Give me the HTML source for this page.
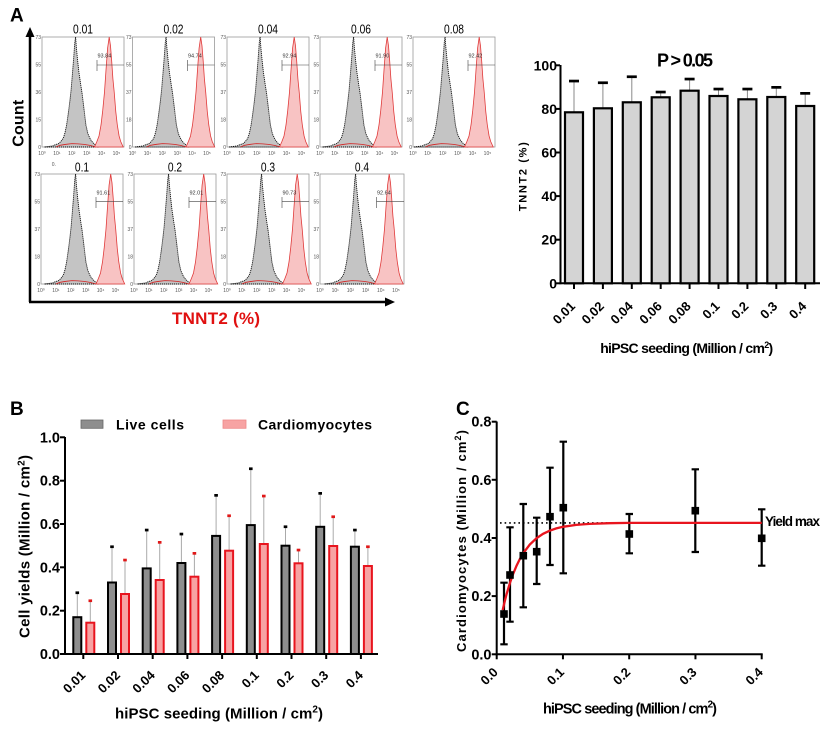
<!DOCTYPE html>
<html><head><meta charset="utf-8"><style>
html,body{margin:0;padding:0;background:#fff;}
svg{display:block;font-family:"Liberation Sans",Arial,sans-serif;}
.b{font-weight:bold;}
.s{font-size:5px;fill:#555;}
.p{font-size:5.5px;fill:#333;}
</style></head><body>
<svg width="824" height="729" viewBox="0 0 824 729" xmlns="http://www.w3.org/2000/svg">
<defs>
<g id="hg">
<path d="M2.5,110 L6.6,109.5 L10.7,108.9 L13.1,107.8 L16.4,106.7 L18.9,104.5 L21.3,101.2 L23,95.7 L24.6,88 L26.2,77 L27.9,63.8 L29.1,52.8 L30.3,38.5 L31.6,22 L32.8,5.5 L33.6,0 L34.4,11 L35.7,24.2 L36.9,35.2 L38.5,46.2 L40.2,57.2 L41.8,70.4 L43.9,88 L45.9,96.8 L48.4,102.3 L50.8,105.6 L53.3,107.8 L55.8,110 Z" fill="#c4c4c4" stroke="#111" stroke-width="0.9" stroke-dasharray="1.2 0.8"/>
<path d="M14,110 L18,108.3 L24,107.3 L30,106.6 L36,106.9 L42,107.4 L48,108.4 L54,110" fill="none" stroke="#d42020" stroke-width="0.8"/>
</g>
<g id="hr">
<path d="M52.5,110 L54.9,104.5 L57,99 L59,88 L60.7,73.7 L62.5,55 L64,33 L65.6,11 L67.2,0 L68.5,8.8 L69.7,24.2 L70.9,41.8 L72.2,55 L73.8,74.8 L75.3,88 L77.1,99 L78.7,104.5 L81.2,110 Z" fill="#f8c3c3" stroke="#e03a3a" stroke-width="0.8"/>
</g>
</defs>
<rect width="824" height="729" fill="#fff"/>

<!-- Panel A label and arrows -->
<text x="10" y="21.7" class="b" font-size="19">A</text>
<line x1="30" y1="35" x2="30" y2="302" stroke="#000" stroke-width="2.5"/>
<polygon points="30,27 25.5,37 34.5,37" fill="#000"/>
<line x1="29" y1="302" x2="386" y2="302" stroke="#000" stroke-width="2.5"/>
<polygon points="395,302 385,297.5 385,306.5" fill="#000"/>
<text transform="translate(23.5,123.3) rotate(-90)" text-anchor="middle" class="b" font-size="16" textLength="47">Count</text>
<text x="216" y="324" text-anchor="middle" class="b" font-size="17" fill="#e01010" textLength="88">TNNT2 (%)</text>

<!-- Histogram panels top row -->
<g transform="translate(42,37)">
<rect x="0" y="0" width="82" height="110" fill="none" stroke="#999" stroke-width="0.8"/>
<use href="#hg"/><use href="#hr"/>
<line x1="55" y1="28" x2="82" y2="28" stroke="#444" stroke-width="0.6"/><line x1="55" y1="23" x2="55" y2="34" stroke="#444" stroke-width="0.6"/>
<text x="55.5" y="20.5" class="p">93.84</text>
<text x="-1" y="2" text-anchor="end" class="s">73</text><text x="-1" y="29.3" text-anchor="end" class="s">55</text><text x="-1" y="57" text-anchor="end" class="s">36</text><text x="-1" y="84.5" text-anchor="end" class="s">15</text><text x="-1" y="112" text-anchor="end" class="s">0</text>
<text x="0" y="118" text-anchor="middle" class="s">10⁰</text><text x="14.9" y="118" text-anchor="middle" class="s">10¹</text><text x="29.8" y="118" text-anchor="middle" class="s">10²</text><text x="44.7" y="118" text-anchor="middle" class="s">10³</text><text x="59.6" y="118" text-anchor="middle" class="s">10⁴</text><text x="74.5" y="118" text-anchor="middle" class="s">10⁵</text>
<text transform="translate(41,-3.5) scale(0.82,1)" text-anchor="middle" font-size="12.5">0.01</text>
</g>
<g transform="translate(132.5,37)">
<rect x="0" y="0" width="82" height="110" fill="none" stroke="#999" stroke-width="0.8"/>
<use href="#hg"/><use href="#hr" x="1"/>
<line x1="55" y1="28" x2="82" y2="28" stroke="#444" stroke-width="0.6"/><line x1="55" y1="23" x2="55" y2="34" stroke="#444" stroke-width="0.6"/>
<text x="55.5" y="20.5" class="p">94.74</text>
<text x="-1" y="2" text-anchor="end" class="s">73</text><text x="-1" y="29.3" text-anchor="end" class="s">55</text><text x="-1" y="57" text-anchor="end" class="s">37</text><text x="-1" y="84.5" text-anchor="end" class="s">18</text><text x="-1" y="112" text-anchor="end" class="s">0</text>
<text x="0" y="118" text-anchor="middle" class="s">10⁰</text><text x="14.9" y="118" text-anchor="middle" class="s">10¹</text><text x="29.8" y="118" text-anchor="middle" class="s">10²</text><text x="44.7" y="118" text-anchor="middle" class="s">10³</text><text x="59.6" y="118" text-anchor="middle" class="s">10⁴</text><text x="74.5" y="118" text-anchor="middle" class="s">10⁵</text>
<text transform="translate(41,-3.5) scale(0.82,1)" text-anchor="middle" font-size="12.5">0.02</text>
</g>
<g transform="translate(227,37)">
<rect x="0" y="0" width="82" height="110" fill="none" stroke="#999" stroke-width="0.8"/>
<use href="#hg" x="-0.5"/><use href="#hr"/>
<line x1="55" y1="28" x2="82" y2="28" stroke="#444" stroke-width="0.6"/><line x1="55" y1="23" x2="55" y2="34" stroke="#444" stroke-width="0.6"/>
<text x="55.5" y="20.5" class="p">92.94</text>
<text x="-1" y="2" text-anchor="end" class="s">73</text><text x="-1" y="29.3" text-anchor="end" class="s">55</text><text x="-1" y="57" text-anchor="end" class="s">37</text><text x="-1" y="84.5" text-anchor="end" class="s">18</text><text x="-1" y="112" text-anchor="end" class="s">0</text>
<text x="0" y="118" text-anchor="middle" class="s">10⁰</text><text x="14.9" y="118" text-anchor="middle" class="s">10¹</text><text x="29.8" y="118" text-anchor="middle" class="s">10²</text><text x="44.7" y="118" text-anchor="middle" class="s">10³</text><text x="59.6" y="118" text-anchor="middle" class="s">10⁴</text><text x="74.5" y="118" text-anchor="middle" class="s">10⁵</text>
<text transform="translate(41,-3.5) scale(0.82,1)" text-anchor="middle" font-size="12.5">0.04</text>
</g>
<g transform="translate(320,37)">
<rect x="0" y="0" width="82" height="110" fill="none" stroke="#999" stroke-width="0.8"/>
<use href="#hg"/><use href="#hr"/>
<line x1="55" y1="28" x2="82" y2="28" stroke="#444" stroke-width="0.6"/><line x1="55" y1="23" x2="55" y2="34" stroke="#444" stroke-width="0.6"/>
<text x="55.5" y="20.5" class="p">91.90</text>
<text x="-1" y="2" text-anchor="end" class="s">73</text><text x="-1" y="29.3" text-anchor="end" class="s">55</text><text x="-1" y="57" text-anchor="end" class="s">37</text><text x="-1" y="84.5" text-anchor="end" class="s">18</text><text x="-1" y="112" text-anchor="end" class="s">0</text>
<text x="0" y="118" text-anchor="middle" class="s">10⁰</text><text x="14.9" y="118" text-anchor="middle" class="s">10¹</text><text x="29.8" y="118" text-anchor="middle" class="s">10²</text><text x="44.7" y="118" text-anchor="middle" class="s">10³</text><text x="59.6" y="118" text-anchor="middle" class="s">10⁴</text><text x="74.5" y="118" text-anchor="middle" class="s">10⁵</text>
<text transform="translate(41,-3.5) scale(0.82,1)" text-anchor="middle" font-size="12.5">0.06</text>
</g>
<g transform="translate(413,37)">
<rect x="0" y="0" width="82" height="110" fill="none" stroke="#999" stroke-width="0.8"/>
<use href="#hg" x="-1.5"/><use href="#hr" x="-1"/>
<line x1="55" y1="28" x2="82" y2="28" stroke="#444" stroke-width="0.6"/><line x1="55" y1="23" x2="55" y2="34" stroke="#444" stroke-width="0.6"/>
<text x="55.5" y="20.5" class="p">92.42</text>
<text x="-1" y="2" text-anchor="end" class="s">73</text><text x="-1" y="29.3" text-anchor="end" class="s">55</text><text x="-1" y="57" text-anchor="end" class="s">37</text><text x="-1" y="84.5" text-anchor="end" class="s">18</text><text x="-1" y="112" text-anchor="end" class="s">0</text>
<text x="0" y="118" text-anchor="middle" class="s">10⁰</text><text x="14.9" y="118" text-anchor="middle" class="s">10¹</text><text x="29.8" y="118" text-anchor="middle" class="s">10²</text><text x="44.7" y="118" text-anchor="middle" class="s">10³</text><text x="59.6" y="118" text-anchor="middle" class="s">10⁴</text><text x="74.5" y="118" text-anchor="middle" class="s">10⁵</text>
<text transform="translate(41,-3.5) scale(0.82,1)" text-anchor="middle" font-size="12.5">0.08</text>
</g>

<!-- Histogram panels bottom row -->
<text x="51.7" y="166" class="s">0.</text>
<g transform="translate(41,174)">
<rect x="0" y="0" width="82" height="110" fill="none" stroke="#999" stroke-width="0.8"/>
<use href="#hg" x="1"/><use href="#hr" x="2.5"/>
<line x1="55" y1="27.7" x2="82" y2="27.7" stroke="#444" stroke-width="0.6"/><line x1="55" y1="23" x2="55" y2="34" stroke="#444" stroke-width="0.6"/>
<text x="55.5" y="20.5" class="p">91.61</text>
<text x="-1" y="2" text-anchor="end" class="s">73</text><text x="-1" y="29.3" text-anchor="end" class="s">55</text><text x="-1" y="57" text-anchor="end" class="s">37</text><text x="-1" y="84.5" text-anchor="end" class="s">18</text><text x="-1" y="112" text-anchor="end" class="s">0</text>
<text x="0" y="118" text-anchor="middle" class="s">10⁰</text><text x="14.9" y="118" text-anchor="middle" class="s">10¹</text><text x="29.8" y="118" text-anchor="middle" class="s">10²</text><text x="44.7" y="118" text-anchor="middle" class="s">10³</text><text x="59.6" y="118" text-anchor="middle" class="s">10⁴</text><text x="74.5" y="118" text-anchor="middle" class="s">10⁵</text>
<text transform="translate(41,-2.5) scale(0.82,1)" text-anchor="middle" font-size="12.5">0.1</text>
</g>
<g transform="translate(134,174)">
<rect x="0" y="0" width="82" height="110" fill="none" stroke="#999" stroke-width="0.8"/>
<use href="#hg" x="1"/><use href="#hr" x="2.5"/>
<line x1="55" y1="27.7" x2="82" y2="27.7" stroke="#444" stroke-width="0.6"/><line x1="55" y1="23" x2="55" y2="34" stroke="#444" stroke-width="0.6"/>
<text x="55.5" y="20.5" class="p">92.01</text>
<text x="-1" y="2" text-anchor="end" class="s">73</text><text x="-1" y="29.3" text-anchor="end" class="s">55</text><text x="-1" y="57" text-anchor="end" class="s">37</text><text x="-1" y="84.5" text-anchor="end" class="s">18</text><text x="-1" y="112" text-anchor="end" class="s">0</text>
<text x="0" y="118" text-anchor="middle" class="s">10⁰</text><text x="14.9" y="118" text-anchor="middle" class="s">10¹</text><text x="29.8" y="118" text-anchor="middle" class="s">10²</text><text x="44.7" y="118" text-anchor="middle" class="s">10³</text><text x="59.6" y="118" text-anchor="middle" class="s">10⁴</text><text x="74.5" y="118" text-anchor="middle" class="s">10⁵</text>
<text transform="translate(41,-2.5) scale(0.82,1)" text-anchor="middle" font-size="12.5">0.2</text>
</g>
<g transform="translate(227,174)">
<rect x="0" y="0" width="82" height="110" fill="none" stroke="#999" stroke-width="0.8"/>
<use href="#hg" x="1"/><use href="#hr" x="3"/>
<line x1="55" y1="27.7" x2="82" y2="27.7" stroke="#444" stroke-width="0.6"/><line x1="55" y1="23" x2="55" y2="34" stroke="#444" stroke-width="0.6"/>
<text x="55.5" y="20.5" class="p">90.73</text>
<text x="-1" y="2" text-anchor="end" class="s">73</text><text x="-1" y="29.3" text-anchor="end" class="s">55</text><text x="-1" y="57" text-anchor="end" class="s">37</text><text x="-1" y="84.5" text-anchor="end" class="s">18</text><text x="-1" y="112" text-anchor="end" class="s">0</text>
<text x="0" y="118" text-anchor="middle" class="s">10⁰</text><text x="14.9" y="118" text-anchor="middle" class="s">10¹</text><text x="29.8" y="118" text-anchor="middle" class="s">10²</text><text x="44.7" y="118" text-anchor="middle" class="s">10³</text><text x="59.6" y="118" text-anchor="middle" class="s">10⁴</text><text x="74.5" y="118" text-anchor="middle" class="s">10⁵</text>
<text transform="translate(41,-2.5) scale(0.82,1)" text-anchor="middle" font-size="12.5">0.3</text>
</g>
<g transform="translate(320,174)">
<rect x="0" y="0" width="84" height="110" fill="none" stroke="#999" stroke-width="0.8"/>
<use href="#hg" x="2"/><use href="#hr" x="2"/>
<line x1="56.5" y1="27.7" x2="84" y2="27.7" stroke="#444" stroke-width="0.6"/><line x1="56.5" y1="23" x2="56.5" y2="34" stroke="#444" stroke-width="0.6"/>
<text x="57" y="20.5" class="p">92.64</text>
<text x="-1" y="2" text-anchor="end" class="s">73</text><text x="-1" y="29.3" text-anchor="end" class="s">55</text><text x="-1" y="57" text-anchor="end" class="s">37</text><text x="-1" y="84.5" text-anchor="end" class="s">18</text><text x="-1" y="112" text-anchor="end" class="s">0</text>
<text x="0" y="118" text-anchor="middle" class="s">10⁰</text><text x="15.2" y="118" text-anchor="middle" class="s">10¹</text><text x="30.4" y="118" text-anchor="middle" class="s">10²</text><text x="45.6" y="118" text-anchor="middle" class="s">10³</text><text x="60.8" y="118" text-anchor="middle" class="s">10⁴</text><text x="76" y="118" text-anchor="middle" class="s">10⁵</text>
<text transform="translate(42,-2.5) scale(0.82,1)" text-anchor="middle" font-size="12.5">0.4</text>
</g>

<!-- Panel A bar chart -->
<g class="b">
<text x="657" y="66.7" font-size="18" textLength="56">P &gt; 0.05</text>
<text transform="translate(526.5,176.7) rotate(-90)" text-anchor="middle" font-size="11" textLength="69">TNNT2 (%)</text>
<g font-size="14" text-anchor="end">
<text x="557" y="288.3">0</text><text x="557" y="244.7">20</text><text x="557" y="201.1">40</text><text x="557" y="157.5">60</text><text x="557" y="113.9">80</text><text x="557" y="70.3">100</text>
</g>
<text x="686.7" y="353" text-anchor="middle" font-size="14" textLength="173">hiPSC seeding (Million / cm<tspan dy="-5" font-size="9">2</tspan><tspan dy="5">)</tspan></text>
<g font-size="13" text-anchor="end">
<text transform="translate(576,307) rotate(-45)">0.01</text>
<text transform="translate(604.9,307) rotate(-45)">0.02</text>
<text transform="translate(633.8,307) rotate(-45)">0.04</text>
<text transform="translate(662.7,307) rotate(-45)">0.06</text>
<text transform="translate(691.6,307) rotate(-45)">0.08</text>
<text transform="translate(720.5,307) rotate(-45)">0.1</text>
<text transform="translate(749.4,307) rotate(-45)">0.2</text>
<text transform="translate(778.3,307) rotate(-45)">0.3</text>
<text transform="translate(807.2,307) rotate(-45)">0.4</text>
</g>
</g>
<g stroke="#000" stroke-width="2">
<line x1="560.5" y1="65" x2="560.5" y2="284.3"/>
<line x1="559.5" y1="283.3" x2="820" y2="283.3"/>
<line x1="555" y1="283.3" x2="560" y2="283.3"/><line x1="555" y1="239.7" x2="560" y2="239.7"/><line x1="555" y1="196.1" x2="560" y2="196.1"/><line x1="555" y1="152.5" x2="560" y2="152.5"/><line x1="555" y1="108.9" x2="560" y2="108.9"/><line x1="555" y1="65.3" x2="560" y2="65.3"/>
<line x1="574" y1="283" x2="574" y2="289"/><line x1="602.9" y1="283" x2="602.9" y2="289"/><line x1="631.8" y1="283" x2="631.8" y2="289"/><line x1="660.7" y1="283" x2="660.7" y2="289"/><line x1="689.6" y1="283" x2="689.6" y2="289"/><line x1="718.5" y1="283" x2="718.5" y2="289"/><line x1="747.4" y1="283" x2="747.4" y2="289"/><line x1="776.3" y1="283" x2="776.3" y2="289"/><line x1="805.2" y1="283" x2="805.2" y2="289"/>
</g>
<g stroke="#8a8a8a" stroke-width="1">
<line x1="574" y1="81" x2="574" y2="112.3"/><line x1="602.9" y1="82.7" x2="602.9" y2="108.3"/><line x1="631.8" y1="76.7" x2="631.8" y2="102.3"/><line x1="660.7" y1="92" x2="660.7" y2="97.3"/><line x1="689.6" y1="79" x2="689.6" y2="90.7"/><line x1="718.5" y1="89" x2="718.5" y2="96"/><line x1="747.4" y1="89" x2="747.4" y2="99.3"/><line x1="776.3" y1="87.3" x2="776.3" y2="97"/><line x1="805.2" y1="93.3" x2="805.2" y2="106"/>
</g>
<g fill="#000">
<rect x="569" y="79.7" width="10" height="2.7"/><rect x="597.9" y="81.4" width="10" height="2.7"/><rect x="626.8" y="75.4" width="10" height="2.7"/><rect x="655.7" y="90.7" width="10" height="2.7"/><rect x="684.6" y="77.7" width="10" height="2.7"/><rect x="713.5" y="87.7" width="10" height="2.7"/><rect x="742.4" y="87.7" width="10" height="2.7"/><rect x="771.3" y="86" width="10" height="2.7"/><rect x="800.2" y="92" width="10" height="2.7"/>
</g>
<g fill="#d4d4d4" stroke="#000" stroke-width="2.2">
<rect x="565" y="112.3" width="18" height="171"/>
<rect x="593.9" y="108.3" width="18" height="175"/>
<rect x="622.8" y="102.3" width="18" height="181"/>
<rect x="651.7" y="97.3" width="18" height="186"/>
<rect x="680.6" y="90.7" width="18" height="192.6"/>
<rect x="709.5" y="96" width="18" height="187.3"/>
<rect x="738.4" y="99.3" width="18" height="184"/>
<rect x="767.3" y="97" width="18" height="186.3"/>
<rect x="796.2" y="106" width="18" height="177.3"/>
</g>

<!-- Panel B -->
<g class="b">
<text x="10" y="415" font-size="19">B</text>
<text x="116" y="429.5" font-size="14" textLength="68">Live cells</text>
<text x="258" y="429.5" font-size="14" textLength="114">Cardiomyocytes</text>
<g font-size="14.5" text-anchor="end">
<text x="60" y="659">0.0</text><text x="60" y="615.7">0.2</text><text x="60" y="572.3">0.4</text><text x="60" y="529">0.6</text><text x="60" y="485.7">0.8</text><text x="60" y="442.3">1.0</text>
</g>
<text transform="translate(29.5,546.5) rotate(-90)" text-anchor="middle" font-size="15" textLength="183">Cell yields (Million / cm<tspan dy="-5" font-size="10">2</tspan><tspan dy="5">)</tspan></text>
<text x="219" y="718.5" text-anchor="middle" font-size="15" textLength="208">hiPSC seeding (Million / cm<tspan dy="-6" font-size="10">2</tspan><tspan dy="6">)</tspan></text>
<g font-size="13" text-anchor="end">
<text transform="translate(86.3,676) rotate(-45)">0.01</text>
<text transform="translate(121,676) rotate(-45)">0.02</text>
<text transform="translate(155.7,676) rotate(-45)">0.04</text>
<text transform="translate(190.4,676) rotate(-45)">0.06</text>
<text transform="translate(225.1,676) rotate(-45)">0.08</text>
<text transform="translate(259.8,676) rotate(-45)">0.1</text>
<text transform="translate(294.5,676) rotate(-45)">0.2</text>
<text transform="translate(329.2,676) rotate(-45)">0.3</text>
<text transform="translate(363.9,676) rotate(-45)">0.4</text>
</g>
</g>
<rect x="81" y="420" width="22" height="8.3" fill="#8e8e8e" stroke="#666" stroke-width="0.8"/>
<rect x="223" y="420" width="23" height="8.3" fill="#f7a3a3" stroke="#e88" stroke-width="0.8"/>
<g stroke="#aaa" stroke-width="1">
<line x1="77.3" y1="592.7" x2="77.3" y2="617.2"/><line x1="112" y1="546.7" x2="112" y2="582.5"/><line x1="146.7" y1="530" x2="146.7" y2="568.4"/><line x1="181.4" y1="534" x2="181.4" y2="563"/><line x1="216.1" y1="495.3" x2="216.1" y2="535.9"/><line x1="250.8" y1="468.7" x2="250.8" y2="525.1"/><line x1="285.5" y1="526.7" x2="285.5" y2="545.7"/><line x1="320.2" y1="493.3" x2="320.2" y2="526.8"/><line x1="354.9" y1="530" x2="354.9" y2="546.7"/>
<line x1="90.3" y1="600.7" x2="90.3" y2="622.7"/><line x1="125" y1="560" x2="125" y2="594"/><line x1="159.7" y1="542.3" x2="159.7" y2="580"/><line x1="194.4" y1="553.3" x2="194.4" y2="576.7"/><line x1="229.1" y1="515.7" x2="229.1" y2="550.7"/><line x1="263.8" y1="496" x2="263.8" y2="544"/><line x1="298.5" y1="550" x2="298.5" y2="563.3"/><line x1="333.2" y1="516.7" x2="333.2" y2="546"/><line x1="367.9" y1="546.7" x2="367.9" y2="566"/>
</g>
<g fill="#000">
<rect x="75.5" y="591.4" width="3.6" height="2.7"/><rect x="110.2" y="545.4" width="3.6" height="2.7"/><rect x="144.9" y="528.7" width="3.6" height="2.7"/><rect x="179.6" y="532.7" width="3.6" height="2.7"/><rect x="214.3" y="494" width="3.6" height="2.7"/><rect x="249" y="467.4" width="3.6" height="2.7"/><rect x="283.7" y="525.4" width="3.6" height="2.7"/><rect x="318.4" y="492" width="3.6" height="2.7"/><rect x="353.1" y="528.7" width="3.6" height="2.7"/>
</g>
<g fill="#e01818">
<rect x="88.5" y="599.4" width="3.6" height="2.7"/><rect x="123.2" y="558.7" width="3.6" height="2.7"/><rect x="157.9" y="541" width="3.6" height="2.7"/><rect x="192.6" y="552" width="3.6" height="2.7"/><rect x="227.3" y="514.4" width="3.6" height="2.7"/><rect x="262" y="494.7" width="3.6" height="2.7"/><rect x="296.7" y="548.7" width="3.6" height="2.7"/><rect x="331.4" y="515.4" width="3.6" height="2.7"/><rect x="366.1" y="545.4" width="3.6" height="2.7"/>
</g>
<g fill="#8e8e8e" stroke="#000" stroke-width="2">
<rect x="73.3" y="617.2" width="8" height="36.8"/><rect x="108" y="582.5" width="8" height="71.5"/><rect x="142.7" y="568.4" width="8" height="85.6"/><rect x="177.4" y="563" width="8" height="91"/><rect x="212.1" y="535.9" width="8" height="118.1"/><rect x="246.8" y="525.1" width="8" height="128.9"/><rect x="281.5" y="545.7" width="8" height="108.3"/><rect x="316.2" y="526.8" width="8" height="127.2"/><rect x="350.9" y="546.7" width="8" height="107.3"/>
</g>
<g fill="#f7a3a3" stroke="#e8141e" stroke-width="2">
<rect x="86.3" y="622.7" width="8" height="31.3"/><rect x="121" y="594" width="8" height="60"/><rect x="155.7" y="580" width="8" height="74"/><rect x="190.4" y="576.7" width="8" height="77.3"/><rect x="225.1" y="550.7" width="8" height="103.3"/><rect x="259.8" y="544" width="8" height="110"/><rect x="294.5" y="563.3" width="8" height="90.7"/><rect x="329.2" y="546" width="8" height="108"/><rect x="363.9" y="566" width="8" height="88"/>
</g>
<g stroke="#000" stroke-width="2">
<line x1="65" y1="437" x2="65" y2="655"/>
<line x1="64" y1="654" x2="378" y2="654"/>
<line x1="60" y1="654" x2="65" y2="654"/><line x1="60" y1="610.7" x2="65" y2="610.7"/><line x1="60" y1="567.3" x2="65" y2="567.3"/><line x1="60" y1="524" x2="65" y2="524"/><line x1="60" y1="480.7" x2="65" y2="480.7"/><line x1="60" y1="437.3" x2="65" y2="437.3"/>
<line x1="83.3" y1="654" x2="83.3" y2="659"/><line x1="118" y1="654" x2="118" y2="659"/><line x1="152.7" y1="654" x2="152.7" y2="659"/><line x1="187.4" y1="654" x2="187.4" y2="659"/><line x1="222.1" y1="654" x2="222.1" y2="659"/><line x1="256.8" y1="654" x2="256.8" y2="659"/><line x1="291.5" y1="654" x2="291.5" y2="659"/><line x1="326.2" y1="654" x2="326.2" y2="659"/><line x1="360.9" y1="654" x2="360.9" y2="659"/>
</g>

<!-- Panel C -->
<g class="b">
<text x="456" y="415" font-size="19">C</text>
<g font-size="14.5" text-anchor="end">
<text x="491.5" y="659.3">0.0</text><text x="491.5" y="601.1">0.2</text><text x="491.5" y="543">0.4</text><text x="491.5" y="484.8">0.6</text><text x="491.5" y="426.7">0.8</text>
</g>
<text transform="translate(466,541) rotate(-90)" text-anchor="middle" font-size="13" textLength="222">Cardiomyocytes (Million / cm<tspan dy="-5" font-size="9">2</tspan><tspan dy="5">)</tspan></text>
<text x="630" y="713.5" text-anchor="middle" font-size="14.5" textLength="174">hiPSC seeding (Million / cm<tspan dy="-6" font-size="10">2</tspan><tspan dy="6">)</tspan></text>
<text x="765" y="526" font-size="13.5" textLength="55">Yield max</text>
<g font-size="13" text-anchor="end">
<text transform="translate(498.7,673) rotate(-45)">0.0</text>
<text transform="translate(565,673) rotate(-45)">0.1</text>
<text transform="translate(631.2,673) rotate(-45)">0.2</text>
<text transform="translate(697.5,673) rotate(-45)">0.3</text>
<text transform="translate(763.7,673) rotate(-45)">0.4</text>
</g>
</g>
<g stroke="#000" stroke-width="2">
<line x1="496.7" y1="421.5" x2="496.7" y2="655.3"/>
<line x1="495.7" y1="654.3" x2="762.7" y2="654.3"/>
<line x1="491.7" y1="654.3" x2="496.7" y2="654.3"/><line x1="491.7" y1="596.1" x2="496.7" y2="596.1"/><line x1="491.7" y1="538" x2="496.7" y2="538"/><line x1="491.7" y1="479.8" x2="496.7" y2="479.8"/><line x1="491.7" y1="421.7" x2="496.7" y2="421.7"/>
<line x1="496.7" y1="654.3" x2="496.7" y2="659.3"/><line x1="562.95" y1="654.3" x2="562.95" y2="659.3"/><line x1="629.2" y1="654.3" x2="629.2" y2="659.3"/><line x1="695.45" y1="654.3" x2="695.45" y2="659.3"/><line x1="761.7" y1="654.3" x2="761.7" y2="659.3"/>
</g>
<line x1="500" y1="522.9" x2="761.7" y2="522.9" stroke="#000" stroke-width="1.6" stroke-dasharray="1.6 3"/>
<g stroke="#000" stroke-width="2.2" fill="none">
<path d="M504,582.7 V644.3 M500.3,582.7 H507.7 M500.3,644.3 H507.7"/>
<path d="M510,527.3 V621.7 M506.3,527.3 H513.7 M506.3,621.7 H513.7"/>
<path d="M523.3,504 V607.3 M519.6,504 H527 M519.6,607.3 H527"/>
<path d="M536.7,517.7 V584 M533,517.7 H540.4 M533,584 H540.4"/>
<path d="M550,467.7 V565 M546.3,467.7 H553.7 M546.3,565 H553.7"/>
<path d="M563.3,441.7 V573.3 M559.6,441.7 H567 M559.6,573.3 H567"/>
<path d="M629.3,514 V553.3 M625.6,514 H633 M625.6,553.3 H633"/>
<path d="M695.3,469.3 V552 M691.6,469.3 H699 M691.6,552 H699"/>
<path d="M761.7,509.3 V565.7 M758,509.3 H765.4 M758,565.7 H765.4"/>
</g>
<polyline fill="none" stroke="#e8141e" stroke-width="2.3" points="502.66,610.1 504.65,601.7 506.6,594 509.95,582.9 513.3,573.5 516.6,565.6 519.9,558.9 523.2,553.3 529.8,544.5 536.45,538.3 543.1,533.8 549.7,530.7 556.3,528.4 563,526.8 576.2,524.9 589.5,523.9 609.3,523.2 629.2,522.9 761.7,522.9"/>
<g fill="#000">
<rect x="500.2" y="610.2" width="7.6" height="7.6"/>
<rect x="506.2" y="571.2" width="7.6" height="7.6"/>
<rect x="519.5" y="551.9" width="7.6" height="7.6"/>
<rect x="532.9" y="547.9" width="7.6" height="7.6"/>
<rect x="546.2" y="512.9" width="7.6" height="7.6"/>
<rect x="559.5" y="503.9" width="7.6" height="7.6"/>
<rect x="625.5" y="530.2" width="7.6" height="7.6"/>
<rect x="691.5" y="506.9" width="7.6" height="7.6"/>
<rect x="757.9" y="534.5" width="7.6" height="7.6"/>
</g>
</svg>
</body></html>
